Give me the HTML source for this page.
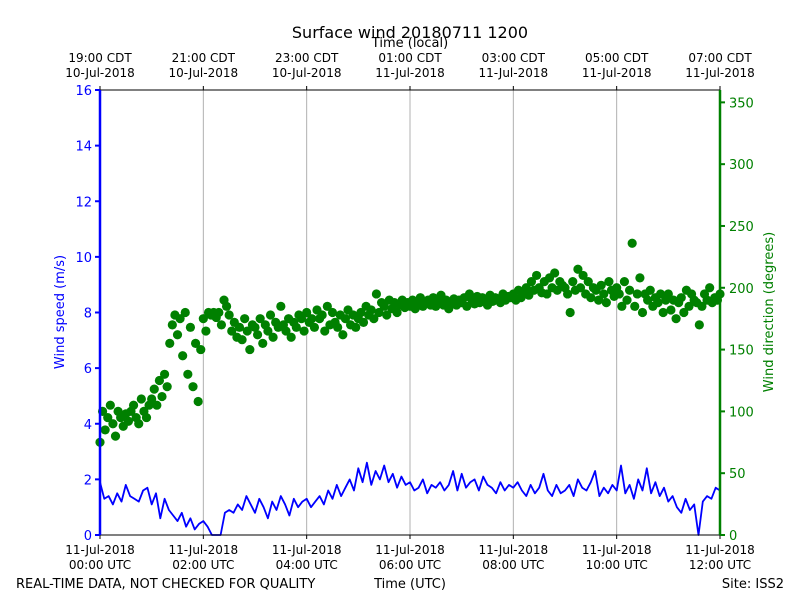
<!DOCTYPE html>
<html><head><meta charset="utf-8"><style>
body{margin:0;background:#fff;}
svg text{font-family:"DejaVu Sans","Liberation Sans",sans-serif;}
</style></head><body>
<svg id="c" width="800" height="600" xmlns="http://www.w3.org/2000/svg">
<text x="410" y="38" font-size="16" text-anchor="middle">Surface wind 20180711 1200</text>
<text x="410" y="47" font-size="13" text-anchor="middle">Time (local)</text>
<text x="16" y="588" font-size="13">REAL-TIME DATA, NOT CHECKED FOR QUALITY</text>
<text x="410" y="588" font-size="13" text-anchor="middle">Time (UTC)</text>
<text x="784" y="588" font-size="13" text-anchor="end">Site: ISS2</text>
<text transform="translate(64,312) rotate(-90)" font-size="13" fill="#0000ff" text-anchor="middle">Wind speed (m/s)</text>
<text transform="translate(773,312) rotate(-90)" font-size="13" fill="#008000" text-anchor="middle">Wind direction (degrees)</text>
<g id="grid"></g><g id="marks"></g><g id="axes"></g>
</svg>
<script>
const speed=[1.9,1.3,1.4,1.1,1.5,1.2,1.8,1.4,1.3,1.2,1.6,1.7,
1.1,1.5,0.6,1.3,0.9,0.7,0.5,0.8,0.3,0.6,0.2,0.4,
0.5,0.3,0.0,0.0,0.0,0.8,0.9,0.8,1.1,0.9,1.4,1.1,
0.8,1.3,1.0,0.6,1.2,0.9,1.4,1.1,0.7,1.3,1.0,1.2,
1.3,1.0,1.2,1.4,1.1,1.6,1.3,1.8,1.4,1.7,2.0,1.6,
2.4,1.9,2.6,1.8,2.3,2.0,2.5,1.9,2.2,1.7,2.1,1.8,
1.9,1.6,1.7,2.0,1.5,1.8,1.7,1.9,1.6,1.8,2.3,1.6,
2.2,1.7,1.9,2.0,1.6,2.1,1.8,1.7,1.5,1.9,1.6,1.8,
1.7,1.9,1.6,1.4,1.8,1.5,1.7,2.2,1.6,1.4,1.8,1.5,
1.6,1.8,1.4,2.0,1.7,1.6,1.9,2.3,1.4,1.7,1.5,1.8,
1.6,2.5,1.5,1.8,1.3,2.0,1.6,2.4,1.5,1.9,1.4,1.7,
1.2,1.4,1.0,0.8,1.3,0.9,1.1,0.0,1.2,1.4,1.3,1.7,1.6];
const direction=[75,100,85,95,105,90,80,100,95,88,98,92,100,105,95,90,110,100,95,105,
110,118,105,125,112,130,120,155,170,178,162,175,145,180,130,168,120,155,108,150,
175,165,180,178,180,176,180,170,190,185,178,165,172,160,168,158,175,165,150,170,
168,162,175,155,170,165,178,160,172,168,185,170,165,175,160,172,168,178,175,165,
180,172,175,168,182,175,178,165,185,170,180,172,168,178,162,175,182,170,178,168,
175,180,172,185,178,182,175,195,180,188,185,178,190,183,188,180,186,190,184,188,
185,190,183,188,192,185,188,190,186,192,185,189,194,186,190,183,188,191,186,190,
188,192,185,195,190,187,193,188,192,190,186,194,189,192,191,188,195,190,193,192,
195,190,198,192,196,200,194,205,198,210,200,196,205,195,208,200,212,198,205,202,
200,195,180,205,198,215,200,210,195,205,192,200,198,190,202,195,188,205,198,193,
200,195,185,205,190,198,236,185,195,208,180,195,190,198,185,192,188,195,180,190,
195,182,190,175,188,192,180,198,185,195,190,188,170,185,195,190,200,188,192,190,195];
const speedTicks=[0,2,4,6,8,10,12,14,16];
const dirTicks=[0,50,100,150,200,250,300,350];
const utcLabels=["00:00 UTC","02:00 UTC","04:00 UTC","06:00 UTC","08:00 UTC","10:00 UTC","12:00 UTC"];
const utcDates=["11-Jul-2018","11-Jul-2018","11-Jul-2018","11-Jul-2018","11-Jul-2018","11-Jul-2018","11-Jul-2018"];
const localLabels=["19:00 CDT","21:00 CDT","23:00 CDT","01:00 CDT","03:00 CDT","05:00 CDT","07:00 CDT"];
const localDates=["10-Jul-2018","10-Jul-2018","10-Jul-2018","11-Jul-2018","11-Jul-2018","11-Jul-2018","11-Jul-2018"];
const X0=100,X1=720,Y0=535,Y1=90;
const xH=h=>X0+(X1-X0)*h/12;
const yS=v=>Y0-(Y0-Y1)*v/16;
const yD=v=>Y0-(Y0-Y1)*v/360;
const NS="http://www.w3.org/2000/svg";
function mk(tag,attrs,parent,txt){const e=document.createElementNS(NS,tag);for(const k in attrs)e.setAttribute(k,attrs[k]);if(txt!==undefined)e.textContent=txt;document.getElementById(parent).appendChild(e);return e;}
utcLabels.forEach((l,i)=>{const x=xH(i*2);
 if(i>0&&i<6){const g=mk('line',{x1:x,x2:x,y1:Y1,y2:Y0,stroke:'#b0b0b0','stroke-width':1},'grid');
 
 }
 mk('line',{x1:x,x2:x,y1:Y0,y2:Y0+4,stroke:'#000'},'axes');
 mk('line',{x1:x,x2:x,y1:Y1,y2:Y1-4,stroke:'#000'},'axes');
 const t1=mk('text',{x:x,y:554,'font-size':12,'text-anchor':'middle'},'axes',utcDates[i]);
 
 
 const t2=mk('text',{x:x,y:569,'font-size':12,'text-anchor':'middle'},'axes',l);
 
 
 const t3=mk('text',{x:x,y:62,'font-size':12,'text-anchor':'middle'},'axes',localLabels[i]);
 
 
 const t4=mk('text',{x:x,y:77,'font-size':12,'text-anchor':'middle'},'axes',localDates[i]);
 
 
});
direction.forEach((d,i)=>{const c=mk('circle',{cx:xH(i*3/60),cy:yD(d),r:4.6,fill:'#008000'},'marks');
 
 });
const pts=speed.map((v,i)=>xH(i*5/60).toFixed(1)+','+yS(v).toFixed(1)).join(' ');
const pl=mk('polyline',{points:pts,fill:'none',stroke:'#0000ff','stroke-width':1.8,'stroke-linejoin':'round'},'marks');


const fr=mk('rect',{x:X0,y:Y1,width:X1-X0,height:Y0-Y1,fill:'none',stroke:'#000','stroke-width':1},'axes');


mk('line',{x1:X0,x2:X0,y1:Y1,y2:Y0,stroke:'#0000ff','stroke-width':2.5},'axes');
mk('line',{x1:X1,x2:X1,y1:Y1,y2:Y0,stroke:'#008000','stroke-width':2.5},'axes');
speedTicks.forEach(v=>{const y=yS(v);mk('line',{x1:X0-5,x2:X0,y1:y,y2:y,stroke:'#0000ff','stroke-width':2},'axes');
 const t=mk('text',{x:X0-8,y:y+5,'font-size':13,'text-anchor':'end',fill:'#0000ff'},'axes',v);
 
 });
dirTicks.forEach(v=>{const y=yD(v);mk('line',{x1:X1,x2:X1+5,y1:y,y2:y,stroke:'#008000','stroke-width':2},'axes');
 const t=mk('text',{x:X1+9,y:y+5,'font-size':13,fill:'#008000'},'axes',v);
 
 });
</script>
</body></html>
